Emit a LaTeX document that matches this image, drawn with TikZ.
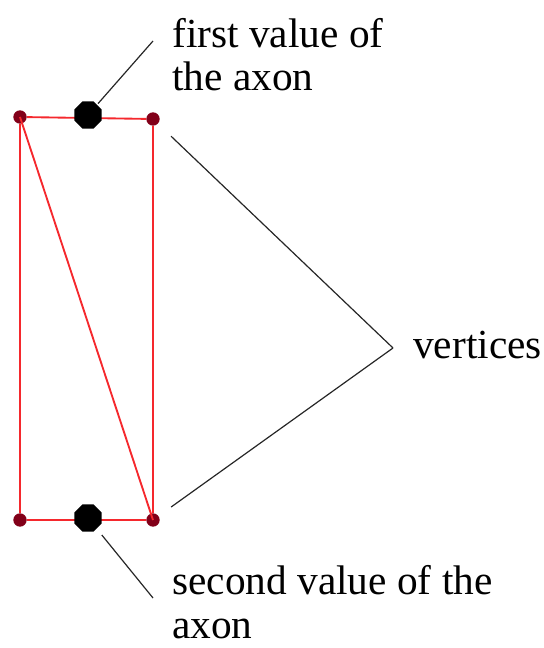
\documentclass[tikz,border=0pt]{standalone}
\usepackage{fontspec}
\setmainfont{Liberation Serif}
\usetikzlibrary{shapes.geometric}
\definecolor{edgered}{RGB}{245,40,45}
\definecolor{vertred}{RGB}{130,0,25}
\tikzset{
  vert/.style={circle, fill=vertred, inner sep=0pt, minimum size=10pt},
  axon/.style={regular polygon, regular polygon sides=8, fill=black, inner sep=0pt, minimum size=22pt},
  edge/.style={draw=edgered, line width=1.4pt},
  lead/.style={draw=black!85, line width=0.9pt},
  lbl/.style={anchor=base west, inner sep=0pt, align=left, font=\fontsize{31}{32.5}\selectfont}
}
\begin{document}
\begin{tikzpicture}[x=0.75pt, y=-0.75pt]
\useasboundingbox (0,0) rectangle (543,648);
% rectangle and its diagonal
\node[vert] (tl) at (20,117) {};
\node[vert] (tr) at (153,119) {};
\node[vert] (bl) at (20,520) {};
\node[vert] (br) at (153,520) {};
\draw[edge] (tl) -- (tr) -- (br) -- (bl) -- (tl);
\draw[edge] (tl.center) -- (br.center);
% values of the axon
\node[axon] (first) at (88,115) {};
\node[axon] (second) at (88,518) {};
% labels (anchored at the last line)
\node[lbl] (firstlbl) at (172,91) {first value of\\the axon};
\node[lbl] (secondlbl) at (172,638) {second value of the\\axon};
\node[lbl] (vertlbl) at (413,358) {vertices};
\coordinate (firstend) at (153,41);
\coordinate (secondend) at (153,598);
\coordinate (tip) at (393,348);
\draw[lead, shorten <=1pt] (first) -- (firstend);
\draw[lead, shorten <=6pt] (second) -- (secondend);
\draw[lead, shorten >=13.5pt] (tip) -- (tr);
\draw[lead, shorten >=11.5pt] (tip) -- (br);
\end{tikzpicture}
\end{document}
